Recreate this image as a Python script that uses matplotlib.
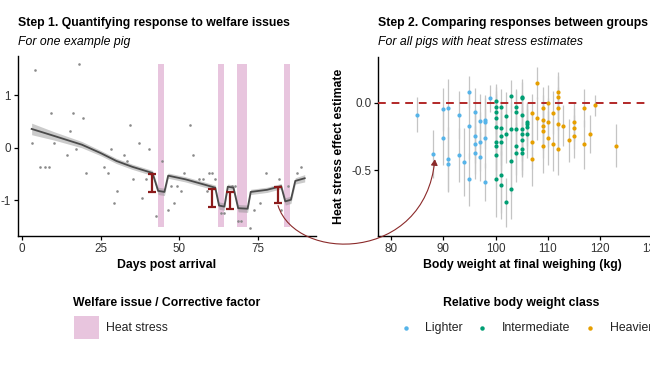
import matplotlib
matplotlib.use("Agg")
import matplotlib.pyplot as plt
import numpy as np
from matplotlib.path import Path
from matplotlib.patches import FancyArrowPatch, Rectangle
from matplotlib.lines import Line2D

plt.rcParams['font.family'] = ['Liberation Sans', 'DejaVu Sans']
plt.rcParams['axes.unicode_minus'] = False

# ---------------- data: panel 1 (one example pig) ----------------
obs_day = [3.1, 4.2, 5.8, 7.1, 8.4, 9.2, 10.1, 14.2, 15.2, 16.2, 17.2, 18.2, 19.3, 20.2,
           26.2, 27.3, 28.2, 29.2, 30.2, 32.3, 33.3, 34.3, 35.3, 37.3, 38.2, 39.3, 40.4,
           42.5, 44.4, 46.3, 47.4, 48.3, 49.4, 50.5, 51.4, 53.5, 54.5, 56.4, 57.5, 58.8,
           59.5, 60.5, 61.5, 63.2, 64.2, 66.8, 67.7, 68.7, 69.6, 72.6, 73.7, 75.8, 77.6,
           81.7, 82.3, 84.6, 87.6, 88.7]
obs_val = [0.09, 1.49, -0.37, -0.37, -0.37, 0.67, 0.09, -0.13, 0.32, 0.67, -0.02, 1.59, 0.56, -0.48,
           -0.37, -0.48, -0.02, -1.06, -0.83, -0.13, -0.25, 0.44, -0.60, 0.10, -0.95, -0.60, -0.02,
           -1.29, -0.26, -1.18, -0.72, -1.05, -0.72, -0.83, -0.48, 0.44, -0.13, -0.60, -0.60, -0.83,
           -0.48, -0.48, -0.60, -1.24, -1.24, -0.72, -0.72, -1.40, -1.40, -1.52, -1.18, -1.05, -0.48,
           -0.60, -1.18, -0.72, -0.48, -0.37]

trend_day = [3.0, 10.0, 19.0, 25.0, 30.0, 35.0, 41.5, 43.3, 45.3, 46.5, 52.0, 58.0, 61.5,
             62.7, 64.4, 65.5, 67.3, 68.8, 71.8, 72.8, 78.0, 82.5, 83.8, 85.6, 87.0, 90.0]
trend_val = [0.36, 0.23, 0.06, -0.10, -0.25, -0.36, -0.48, -0.82, -0.84, -0.53, -0.60, -0.70, -0.76,
             -1.10, -1.12, -0.74, -0.76, -1.15, -1.16, -0.84, -0.80, -0.73, -1.02, -0.99, -0.63, -0.58]
trend_ci = [0.11, 0.08, 0.06, 0.05, 0.05, 0.05, 0.05, 0.07, 0.07, 0.05, 0.05, 0.05, 0.05,
            0.07, 0.07, 0.05, 0.05, 0.07, 0.07, 0.05, 0.05, 0.05, 0.07, 0.07, 0.06, 0.07]

heat_start = [43.1, 62.4, 68.4, 83.4]
heat_end = [45.2, 64.4, 71.6, 85.4]
heat_ymin, heat_ymax = -1.5, 1.6

effect_day = [41.4, 60.4, 66.3, 81.5]
effect_top = [-0.49, -0.78, -0.84, -0.75]
effect_bot = [-0.84, -1.12, -1.16, -1.06]

# ---------------- data: panel 2 (all pigs) ----------------
light_w = [85, 88, 90, 90, 91, 91, 91, 93, 93, 94, 95, 95, 95, 96, 96, 96, 96, 97, 97, 97,
           98, 98, 98, 98, 99]
light_v = [-0.09, -0.38, -0.05, -0.26, -0.04, -0.42, -0.455, -0.09, -0.39, -0.44, 0.08, -0.175,
           -0.57, -0.07, -0.25, -0.31, -0.37, -0.135, -0.29, -0.40, -0.14, -0.125, -0.265, -0.59, 0.035]
light_e = [0.13, 0.18, 0.16, 0.20, 0.22, 0.24, 0.20, 0.18, 0.20, 0.25, 0.12, 0.24,
           0.20, 0.18, 0.20, 0.22, 0.20, 0.20, 0.22, 0.18, 0.20, 0.16, 0.22, 0.14, 0.10]

inter_w = [100, 100, 100, 100, 100, 100, 100, 100, 100,
           101, 101, 101, 101, 101, 101,
           102, 102, 102,
           103, 103, 103, 103,
           104, 104, 104, 104, 104,
           105, 105, 105, 105, 105, 105, 105, 105,
           106, 106, 106, 106]
inter_v = [0.01, -0.03, -0.07, -0.115, -0.18, -0.29, -0.32, -0.39, -0.57,
           -0.035, -0.19, -0.245, -0.29, -0.54, -0.61,
           -0.10, -0.23, -0.74,
           0.05, -0.195, -0.43, -0.64,
           -0.035, -0.07, -0.195, -0.32, -0.37,
           0.035, 0.045, -0.09, -0.195, -0.23, -0.28, -0.34, -0.37,
           -0.14, -0.16, -0.18, -0.23]
inter_e = [0.13, 0.15, 0.16, 0.18, 0.20, 0.22, 0.24, 0.25, 0.28,
           0.14, 0.20, 0.22, 0.22, 0.28, 0.25,
           0.18, 0.22, 0.18,
           0.12, 0.20, 0.25, 0.22,
           0.14, 0.16, 0.20, 0.22, 0.22,
           0.12, 0.13, 0.16, 0.20, 0.20, 0.22, 0.20, 0.18,
           0.14, 0.16, 0.16, 0.18]

heavy_w = [107, 107, 107, 108, 108, 109, 109, 109, 109, 109, 110, 110, 110, 111, 111,
           112, 112, 112, 112, 112, 113, 114, 115, 115, 115, 117, 117, 118, 119, 123]
heavy_v = [-0.075, -0.29, -0.42, 0.145, -0.115, -0.04, -0.125, -0.17, -0.21, -0.32, -0.005, -0.145,
           -0.26, -0.075, -0.31, 0.08, 0.04, -0.04, -0.16, -0.34, -0.17, -0.28, -0.145, -0.19,
           -0.25, -0.04, -0.31, -0.23, -0.02, -0.32]
heavy_e = [0.14, 0.20, 0.20, 0.12, 0.16, 0.16, 0.18, 0.18, 0.20, 0.20, 0.14, 0.18,
           0.20, 0.16, 0.20, 0.15, 0.16, 0.16, 0.18, 0.20, 0.15, 0.16, 0.14, 0.15,
           0.16, 0.14, 0.18, 0.14, 0.08, 0.16]

class_names = ['Lighter', 'Intermediate', 'Heavier']
class_colors = ['#56B4E9', '#009E73', '#E69F00']

ex_pig = (88.4, -0.42)      # example pig in panel 2
ex_start = (81.5, -1.10)    # arrow start in panel 1

# ---------------- figure ----------------
W, H = 650, 366
fig = plt.figure(figsize=(W / 100, H / 100), dpi=100)

def rect(l, t, r, b):
    return [l / W, 1 - b / H, (r - l) / W, (b - t) / H]

FS = 8.8
TFS = 8.4
ink = '#000000'
tick_col = '#333333'

def style(ax):
    for s in ['top', 'right']:
        ax.spines[s].set_visible(False)
    for s in ['left', 'bottom']:
        ax.spines[s].set_linewidth(1.0)
        ax.spines[s].set_color(ink)
    ax.tick_params(direction='out', length=3, width=0.9, color=ink,
                   labelsize=TFS, labelcolor=tick_col, pad=2)
    ax.set_facecolor('none')

# Panel 1
ax1 = fig.add_axes(rect(18, 56, 316, 236))
style(ax1)
ax1.set_xlim(-1.35, 93.6)
ax1.set_ylim(-1.68, 1.75)
for s0, s1 in zip(heat_start, heat_end):
    ax1.fill_between([s0, s1], heat_ymin, heat_ymax, color='#E8C5DE', lw=0, zorder=1)
ax1.scatter(obs_day, obs_val, s=3.5, color='#8a8a8a', lw=0, zorder=2)
td = np.array(trend_day); tv = np.array(trend_val); tc = np.array(trend_ci)
ax1.fill_between(td, tv - tc, tv + tc, color='#8c8c8c', alpha=0.45, lw=0, zorder=3)
ax1.plot(td, tv, color='#4a4a4a', lw=1.3, zorder=4)
eb_mid = (np.array(effect_top) + np.array(effect_bot)) / 2
eb_half = (np.array(effect_top) - np.array(effect_bot)) / 2
ax1.errorbar(effect_day, eb_mid, yerr=eb_half, fmt='none', ecolor='#8B1A1A',
             elinewidth=1.6, capsize=2.6, capthick=1.6, zorder=5)
ax1.set_xticks([0, 25, 50, 75])
ax1.set_yticks([-1, 0, 1])
ax1.set_yticklabels(['-1', '0', '1'])

# Panel 2
ax2 = fig.add_axes(rect(378.3, 57, 657, 236))
style(ax2)
ax2.set_xlim(77.57, 130.9)
ax2.set_ylim(-0.99, 0.34)
groups = [(light_w, light_v, light_e), (inter_w, inter_v, inter_e), (heavy_w, heavy_v, heavy_e)]
for (gw, gv, ge) in groups:
    gv = np.array(gv); ge = np.array(ge)
    ax2.vlines(gw, gv - ge, gv + ge, color='#c4c4c4', lw=0.9, zorder=2)
ax2.axhline(0, color='#B22828', lw=1.4, dashes=(4.0, 3.0), zorder=3)
for (gw, gv, ge), col in zip(groups, class_colors):
    ax2.scatter(gw, gv, s=9, color=col, lw=0, zorder=4)
ax2.set_xticks([80, 90, 100, 110, 120, 130])
ax2.set_yticks([-0.5, 0.0])
ax2.set_yticklabels(['-0.5', '0.0'])

# Titles
fig.text(18 / W, 1 - 26 / H, 'Step 1. Quantifying response to welfare issues',
         fontsize=FS, fontweight='bold', ha='left', va='baseline')
fig.text(18 / W, 1 - 45 / H, 'For one example pig', fontsize=FS, style='italic',
         ha='left', va='baseline')
fig.text(378 / W, 1 - 26 / H, 'Step 2. Comparing responses between groups',
         fontsize=FS, fontweight='bold', ha='left', va='baseline')
fig.text(378 / W, 1 - 45 / H, 'For all pigs with heat stress estimates', fontsize=FS,
         style='italic', ha='left', va='baseline')

# Axis labels
fig.text(167 / W, 1 - 268 / H, 'Days post arrival', fontsize=FS, fontweight='bold',
         ha='center', va='baseline')
fig.text(522 / W, 1 - 268 / H, 'Body weight at final weighing (kg)', fontsize=FS,
         fontweight='bold', ha='center', va='baseline')
fig.text(338.5 / W, 1 - 146 / H, 'Heat stress effect estimate', fontsize=FS,
         fontweight='bold', ha='center', va='center', rotation=90)

# Legends
fig.text(73 / W, 1 - 306 / H, 'Welfare issue / Corrective factor', fontsize=FS,
         fontweight='bold', ha='left', va='baseline')
fig.patches.append(Rectangle((74 / W, 1 - 339 / H), 25 / W, 23.5 / H,
                             transform=fig.transFigure, color='#E8C5DE', lw=0))
fig.text(106.5 / W, 1 - 328 / H, 'Heat stress', fontsize=FS, ha='left', va='center',
         color='#222222')

fig.text(521.5 / W, 1 - 306 / H, 'Relative body weight class', fontsize=FS,
         fontweight='bold', ha='center', va='baseline')
dot_x = [406, 482, 590]
lab_x = [425, 501.5, 610]
for name, col, dx, lx in zip(class_names, class_colors, dot_x, lab_x):
    fig.lines.append(Line2D([dx / W], [1 - 327.7 / H], marker='o', markersize=2.2,
                            color=col, lw=0, transform=fig.transFigure))
    fig.text(lx / W, 1 - 328 / H, name, fontsize=FS, ha='left', va='center',
             color='#222222')

# Curved arrow linking example pig across panels
p0 = ax1.transData.transform(ex_start)
p3 = ax2.transData.transform(ex_pig)
p1 = p0 + np.array([18, -57])
p2 = p3 + np.array([-10, -104])
inv = fig.transFigure.inverted()
verts = inv.transform(np.array([p0, p1, p2, p3]))
path = Path(verts, [Path.MOVETO, Path.CURVE4, Path.CURVE4, Path.CURVE4])
arrow = FancyArrowPatch(path=path, arrowstyle='-|>,head_length=3.5,head_width=2',
                        color='#8B2A2A', lw=0.8, transform=fig.transFigure,
                        shrinkA=0, shrinkB=0, zorder=10)
fig.patches.append(arrow)

fig.savefig('out.png', dpi=100)
